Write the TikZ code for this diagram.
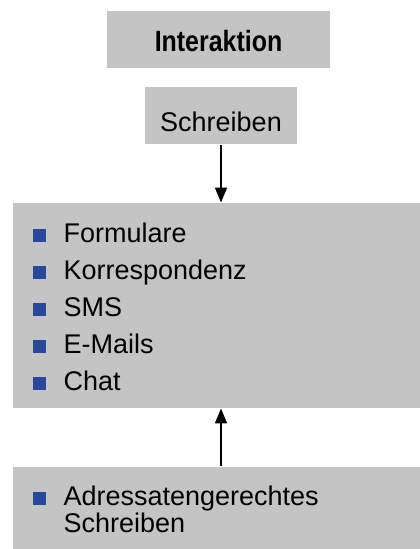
\documentclass[tikz,border=0pt]{standalone}
\usepackage{fontspec}
\setmainfont{Liberation Sans}
\usepackage{xcolor}
\usetikzlibrary{arrows.meta}

\definecolor{boxgray}{RGB}{196,196,196}
\definecolor{bulletblue}{RGB}{40,72,155}
\newcommand{\blt}{\textcolor{bulletblue}{\rule{9.75pt}{9.75pt}}\hspace{13.5pt}}

\begin{document}
\begin{tikzpicture}[x=0.75pt,y=-0.75pt,->,>={Triangle[length=11pt,width=9pt]},line width=0.9pt]
	\tikzstyle{box}=[fill=boxgray,inner sep=0pt]
	\tikzstyle{wide}=[box,minimum width=305.25pt]
	\tikzstyle{bigfont}=[font=\fontsize{20.25}{27.75}\selectfont]

	\useasboundingbox (0,0) rectangle (420,549);

	\node[box,minimum width=167.25pt,minimum height=42.75pt,text height=18.3pt,text depth=0pt,font=\fontsize{22}{24}\selectfont\bfseries] (inter) at (218.5,39.5) {\scalebox{0.85}[1]{Interaktion}};
	\node[box,minimum width=114pt,minimum height=42.75pt,text height=24pt,text depth=0pt,bigfont] (schreib) at (221,115.5) {Schreiben};
	\node[wide,minimum height=153.75pt] (medien) at (216.5,305.5) {};
	\node[wide,minimum height=61.5pt] (adress) at (216.5,508) {};

	% Inhalt der Kaesten
	\node[inner sep=0pt,align=left,anchor=north west,bigfont] (liste) at (32,215.8)
		{\strut\blt Formulare\\ \strut\blt Korrespondenz\\ \strut\blt SMS\\ \strut\blt E-Mails\\ \strut\blt Chat};
	\node[inner sep=0pt,anchor=base west,font=\fontsize{20.25}{20.8}\selectfont] (adresstext) at (32,505)
		{\blt\begin{tabular}[t]{@{}l@{}}Adressatengerechtes\\Schreiben\end{tabular}};

	\draw (schreib.south) -- (schreib.south |- medien.north);
	\draw (schreib |- adress.north) -- (schreib |- medien.south);
\end{tikzpicture}
\end{document}
